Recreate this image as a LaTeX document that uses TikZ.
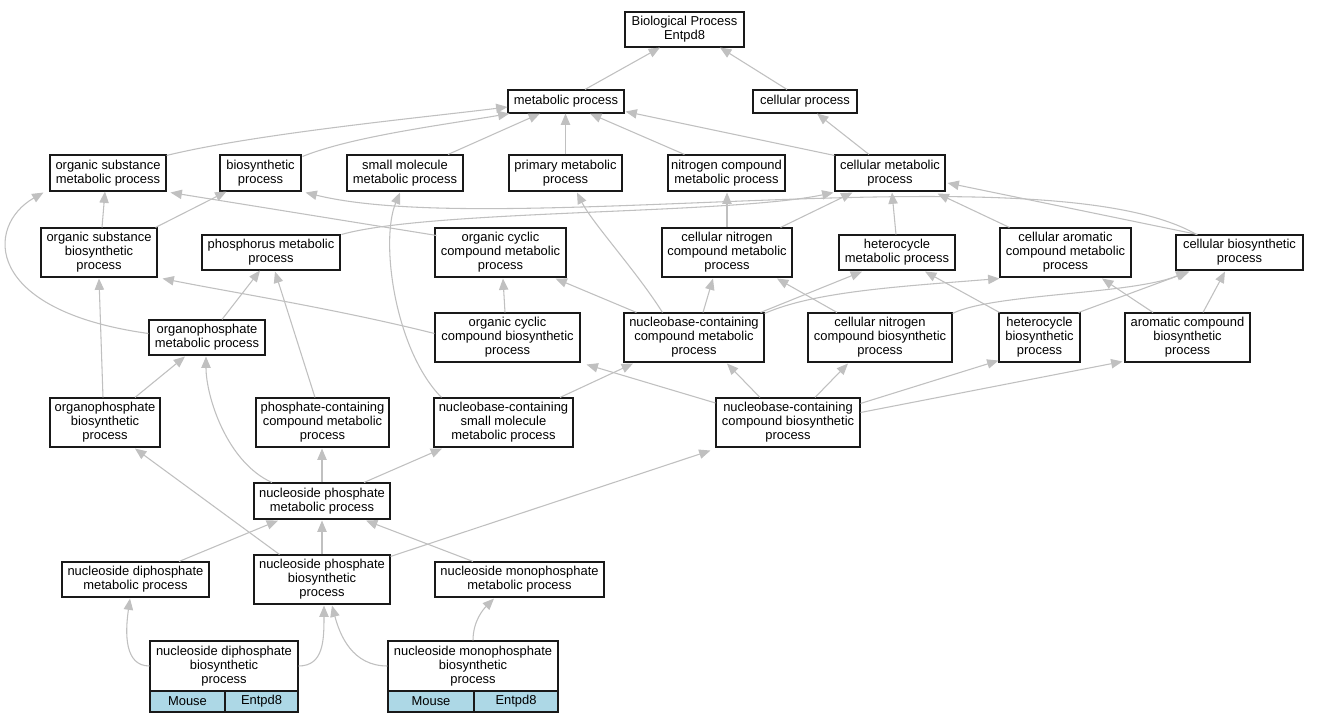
\documentclass[tikz,border=0pt]{standalone}
\usepackage{fontspec}
\setmainfont{Liberation Sans}
\usetikzlibrary{arrows.meta,calc}
\definecolor{edgec}{RGB}{192,192,192}
\definecolor{cellc}{RGB}{173,216,230}
\newcommand\gobox[6]{\node[gobox, minimum width=#4*0.75pt, minimum height=#5*0.75pt] (#1) at (#2,#3) {#6};}
\newcommand\gocell[6]{\node[gocell, minimum width=#4*0.75pt, minimum height=#5*0.75pt] (#1) at (#2,#3) {#6};}
\begin{document}
\begin{tikzpicture}[x=0.75pt,y=-0.75pt,
 gobox/.style={draw=black!90, line width=0.8pt, fill=white, rectangle, inner sep=0pt, align=center, font=\fontsize{9.7}{10.5}\selectfont},
 gocell/.style={gobox, fill=cellc},
 edge/.style={draw=edgec, line width=0.8pt, -{Triangle[length=8.5pt,width=7pt]}}]
\path[fill=white] (0,0) rectangle (1318,723);
\useasboundingbox (0,0) rectangle (1318,723);
% nodes
\gobox{bp}{684.5}{29.5}{119}{35}{Biological Process\\Entpd8}
\gobox{mp}{566}{101.5}{116}{23}{metabolic process}
\gobox{cp}{805}{101.5}{104}{23}{cellular process}
\gobox{osm}{108}{173}{116}{36}{organic substance\\metabolic process}
\gobox{bio}{260.5}{173}{81}{36}{biosynthetic\\process}
\gobox{smm}{405}{173}{116}{36}{small molecule\\metabolic process}
\gobox{pmp}{565.5}{173}{113}{36}{primary metabolic\\process}
\gobox{ncm}{726.5}{173}{117}{36}{nitrogen compound\\metabolic process}
\gobox{cmp}{890}{173}{110}{36}{cellular metabolic\\process}
\gobox{osb}{99}{252.5}{116}{49}{organic substance\\biosynthetic\\process}
\gobox{phm}{271}{252.5}{138}{35}{phosphorus metabolic\\process}
\gobox{occm}{500.5}{252.5}{131}{49}{organic cyclic\\compound metabolic\\process}
\gobox{cncm}{727}{252.5}{130}{49}{cellular nitrogen\\compound metabolic\\process}
\gobox{hcm}{897}{252.5}{116}{35}{heterocycle\\metabolic process}
\gobox{cacm}{1065.5}{252.5}{131}{49}{cellular aromatic\\compound metabolic\\process}
\gobox{cbp}{1239.5}{252.5}{127}{35}{cellular biosynthetic\\process}
\gobox{opm}{207}{337.5}{116}{35}{organophosphate\\metabolic process}
\gobox{occb}{507.5}{337.5}{145}{49}{organic cyclic\\compound biosynthetic\\process}
\gobox{nbcm}{694}{337.5}{140}{49}{nucleobase-containing\\compound metabolic\\process}
\gobox{cncb}{880}{337.5}{144}{49}{cellular nitrogen\\compound biosynthetic\\process}
\gobox{hcb}{1039.5}{337.5}{81}{49}{heterocycle\\biosynthetic\\process}
\gobox{acb}{1187.5}{337.5}{125}{49}{aromatic compound\\biosynthetic\\process}
\gobox{opb}{105}{422.5}{110}{49}{organophosphate\\biosynthetic\\process}
\gobox{pccm}{322.5}{422.5}{133}{49}{phosphate-containing\\compound metabolic\\process}
\gobox{nbsm}{503.5}{422.5}{139}{49}{nucleobase-containing\\small molecule\\metabolic process}
\gobox{nbcb}{788}{422.5}{144}{49}{nucleobase-containing\\compound biosynthetic\\process}
\gobox{npm}{322}{501}{136}{36}{nucleoside phosphate\\metabolic process}
\gobox{ndm}{135.5}{579.5}{147}{35}{nucleoside diphosphate\\metabolic process}
\gobox{npb}{322}{579.5}{136}{49}{nucleoside phosphate\\biosynthetic\\process}
\gobox{nmm}{519.5}{579.5}{169}{35}{nucleoside monophosphate\\metabolic process}
\gobox{ndb}{224}{666}{148}{50}{nucleoside diphosphate\\biosynthetic\\process}
\gocell{ndbm}{187.5}{701.5}{75}{21}{Mouse}
\gocell{ndbe}{261.5}{701.5}{73}{21}{Entpd8}
\gobox{nmb}{473}{666}{170}{50}{nucleoside monophosphate\\biosynthetic\\process}
\gocell{nmbm}{431}{701.5}{86}{21}{Mouse}
\gocell{nmbe}{516}{701.5}{84}{21}{Entpd8}
% edges
\draw[edge] ($(mp.north)+(19,0)$) -- ($(bp.south)+(-24.5,0)$);
\draw[edge] ($(cp.north)+(-18,0)$) -- ($(bp.south)+(35.5,0)$);
\draw[edge] ($(osm.north east)+(0,1)$) .. controls +(90,-22) and +(-80,10) .. ($(mp.west)+(0,5.5)$);
\draw[edge] ($(bio.north east)+(1,2)$) .. controls +(50,-20) and +(-70,12) .. ($(mp.south west)+(2,0)$);
\draw[edge] ($(smm.north)+(43,0)$) -- ($(mp.south)+(-26,0)$);
\draw[edge] (pmp.north) -- ($(mp.south)+(-0.5,0)$);
\draw[edge] ($(ncm.north west)+(17,0)$) -- ($(mp.south)+(24,0)$);
\draw[edge] ($(cmp.north west)+(0,1)$) -- ($(mp.south east)+(1,-2)$);
\draw[edge] ($(cmp.north)+(-21,0)$) -- ($(cp.south)+(12,0)$);
\draw[edge] ($(osb.north)+(3,0)$) -- ($(osm.south)+(-3,0)$);
\draw[edge] ($(osb.north east)+(-2,0)$) -- ($(bio.south west)+(7,0)$);
\draw[edge] ($(opm.west)+(0,-4)$) .. controls +(-166,-23) and +(-58,33) .. ($(osm.south west)+(-6,1)$);
\draw[edge] ($(opm.north)+(15,0)$) -- ($(phm.south)+(-11,0)$);
\draw[edge] ($(occm.north west)+(2,8)$) -- ($(osm.south east)+(4,1)$);
\draw[edge] ($(cbp.north west)+(21,0)$) .. controls +(-147,-85) and +(195,48) .. ($(bio.south east)+(4,1)$);
\draw[edge] ($(phm.north east)+(1,0)$) .. controls +(89,-25) and +(-104,22) .. ($(cmp.south west)+(-1,1)$);
\draw[edge] ($(nbsm.north west)+(8,0)$) .. controls +(-47,-48) and +(-20,48) .. ($(smm.south)+(-5,1)$);
\draw[edge] ($(nbcm.north west)+(39,0)$) .. controls +(-25,-40) and +(15,30) .. ($(pmp.south)+(11.5,1)$);
\draw[edge] ($(occb.north)+(-2.5,0)$) -- ($(occm.south)+(2.5,1)$);
\draw[edge] ($(nbcm.north west)+(13,0)$) -- ($(occm.south east)+(-11,1)$);
\draw[edge] (cncm.north) -- ($(ncm.south)+(0.5,1)$);
\draw[edge] ($(cncm.north east)+(-12,0)$) -- ($(cmp.south west)+(18,1)$);
\draw[edge] ($(hcm.north)+(-1,0)$) -- ($(cmp.south)+(2,1)$);
\draw[edge] ($(cacm.north west)+(10,0)$) -- ($(cmp.south east)+(-8,2)$);
\draw[edge] ($(cbp.north west)+(22,0)$) -- ($(cmp.east)+(2,10)$);
\draw[edge] ($(nbcm.north)+(9,0)$) -- ($(cncm.south)+(-14,1)$);
\draw[edge] ($(cncb.north)+(-43,0)$) -- ($(cncm.south)+(50,1)$);
\draw[edge] ($(nbcm.north east)+(-4,0)$) -- ($(hcm.south)+(-35,1)$);
\draw[edge] ($(hcb.north west)+(1,0)$) -- ($(hcm.south)+(28,1)$);
\draw[edge] ($(nbcm.north east)+(0,1)$) .. controls +(50,-22) and +(-100,8) .. ($(cacm.south west)+(0,1)$);
\draw[edge] ($(cncb.north east)+(0,1)$) .. controls +(40,-20) and +(-55,23) .. ($(cbp.south west)+(12,1)$);
\draw[edge] ($(hcb.north east)+(-2,0)$) -- ($(cbp.south west)+(14,1)$);
\draw[edge] ($(acb.north)+(15.5,0)$) -- ($(cbp.south)+(-14.5,1)$);
\draw[edge] ($(acb.north)+(-34.5,0)$) -- ($(cacm.south)+(36.5,1)$);
\draw[edge] ($(opb.north)+(-2,0)$) -- ($(osb.south)+(0,1)$);
\draw[edge] ($(opb.north)+(30,0)$) -- ($(opm.south)+(-22,1)$);
\draw[edge] ($(pccm.north)+(-7.5,0)$) -- ($(phm.south)+(4,1)$);
\draw[edge] ($(occb.west)+(0,-4)$) .. controls +(-100,-25) and +(70,14) .. ($(osb.south east)+(5,1)$);
\draw[edge] ($(nbcb.west)+(0,-19.5)$) -- ($(occb.south east)+(6,2)$);
\draw[edge] ($(nbsm.north)+(56.5,0)$) -- ($(nbcm.south)+(-61,1)$);
\draw[edge] ($(nbcb.north)+(-28,0)$) -- ($(nbcm.south)+(33,1)$);
\draw[edge] ($(nbcb.north)+(27,0)$) -- ($(cncb.south)+(-32,1)$);
\draw[edge] ($(nbcb.north east)+(0,6)$) -- ($(hcb.south west)+(0,-2)$);
\draw[edge] ($(nbcb.east)+(0,-10)$) -- ($(acb.south west)+(-2,-1)$);
\draw[edge] ($(npb.north east)+(0,2)$) -- ($(nbcb.south west)+(-5,3)$);
\draw[edge] ($(npm.north)+(-50,0)$) .. controls +(-45,-20) and +(0,40) .. ($(opm.south)+(-1,1)$);
\draw[edge] (npm.north) -- ($(pccm.south)+(-0.5,1)$);
\draw[edge] ($(npm.north)+(42,0)$) -- ($(nbsm.south)+(-61.5,1)$);
\draw[edge] ($(npb.north west)+(26,0)$) -- ($(opb.south)+(30,1)$);
\draw[edge] ($(ndm.north)+(43.5,0)$) -- ($(npm.south)+(-44,1)$);
\draw[edge] (npb.north) -- ($(npm.south)+(0,1)$);
\draw[edge] ($(nmm.north)+(-46.5,0)$) -- ($(npm.south)+(44,1)$);
\draw[edge] (ndb.west) .. controls +(-25,0) and +(-5,35) .. ($(ndm.south)+(-5.5,1)$);
\draw[edge] (ndb.east) .. controls +(25,0) and +(0,35) .. ($(npb.south)+(2,1)$);
\draw[edge] (nmb.west) .. controls +(-35,0) and +(8,30) .. ($(npb.south)+(10,1)$);
\draw[edge] (nmb.north) .. controls +(0,-20) and +(-10,10) .. ($(nmm.south)+(-25.5,1)$);
\end{tikzpicture}
\end{document}
